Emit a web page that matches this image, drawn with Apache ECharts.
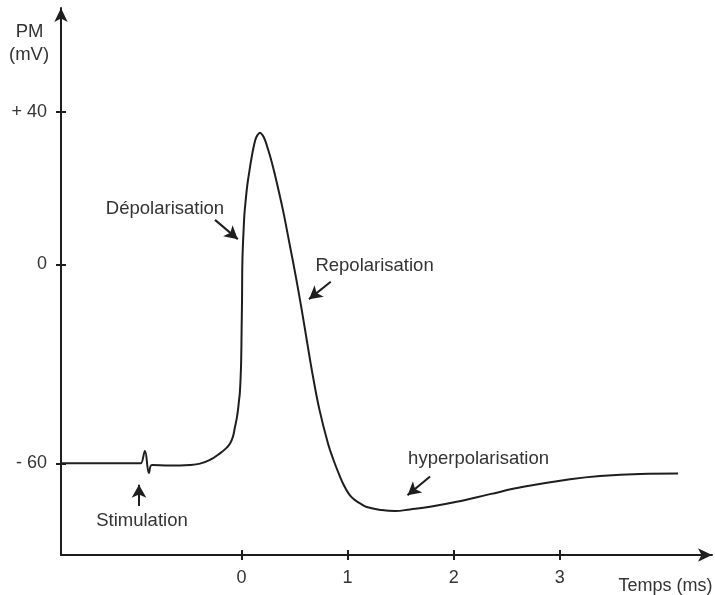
<!DOCTYPE html>
<html>
<head>
<meta charset="utf-8">
<script src="https://cdn.jsdelivr.net/npm/echarts@6/dist/echarts.min.js"></script>
<style>
html,body{margin:0;padding:0;background:#fff;}
#chart{width:715px;height:595px;}
</style>
</head>
<body>
<div id="chart"></div>
<script>
// ---- data (time in ms, membrane potential in mV) ----
const timeMs = [-1.701, -0.957, -0.947, -0.910, -0.872, -0.844, -0.674, -0.485, -0.391, -0.297, -0.203, -0.146, -0.108, -0.080,
  -0.061, -0.044, -0.033, -0.023, -0.016, -0.008, -0.003, 0.001, 0.005, 0.008, 0.014, 0.020, 0.027, 0.040, 0.055, 0.076,
  0.091, 0.108, 0.130, 0.149, 0.174, 0.200, 0.221, 0.253, 0.286, 0.319, 0.355, 0.391, 0.452, 0.512, 0.568, 0.620, 0.674,
  0.735, 0.815, 0.867, 0.928, 0.966, 1.007, 1.037, 1.070, 1.117, 1.180, 1.321, 1.447, 1.588, 1.777, 2.028, 2.342, 2.656,
  3.096, 3.379, 3.756, 4.114];
const pmMv = [-60.0, -60.0, -60.0, -56.3, -63.0, -60.5, -60.7, -60.5, -60.1, -59.0, -57.0, -55.5, -54.0, -51.9,
  -49.0, -46.3, -43.9, -40.9, -38.9, -33.9, -28.9, -19.8, -10.8, 0.1, 5.6, 9.0, 12.9, 16.9, 20.8, 24.7,
  27.3, 29.9, 32.6, 33.8, 34.5, 33.8, 32.6, 29.9, 26.7, 23.0, 18.7, 14.2, 5.5, -3.7, -13.8, -23.8, -33.9,
  -43.9, -54.0, -59.0, -64.0, -66.7, -69.0, -70.2, -71.1, -72.1, -73.2, -74.1, -74.4, -73.9, -73.1, -71.6, -69.3, -67.1,
  -64.8, -63.8, -63.2, -63.1];

const xTicks = [0, 1, 2, 3];
const yTicks = [40, 0, -60];
const yTickLabels = ['+ 40', '0', '- 60'];

// annotation texts and arrows (data coordinates: ms, mV)
const annTexts = ['Stimulation', 'Dépolarisation', 'Repolarisation', 'hyperpolarisation'];
const annTextPos = [[-0.938, -77.4], [-0.721, 14.4], [1.254, -0.5], [2.234, -58.7]];
const annArrowFrom = [[-0.966, -72.9], [-0.250, 11.65], [0.841, -5.25], [1.777, -64.0]];
const annArrowTo = [[-0.966, -66.5], [-0.035, 6.6], [0.636, -10.5], [1.565, -69.6]];

// the drawn y scale is stretched above 0 mV
const POS_STRETCH = 1.15;
function toAxis(v) { return v > 0 ? v * POS_STRETCH : v; }
const yTickPos = yTicks.map(toAxis);
function pt(p) { return [p[0], toAxis(p[1])]; }

const FONT = 'Liberation Sans, Arial, sans-serif';
const TXT = '#333';
const INK = '#1e1e1e';

const chart = echarts.init(document.getElementById('chart'));
const xCommon = { type: 'value', min: -1.701, max: 4.434, splitLine: { show: false }, gridIndex: 0 };
const yCommon = { type: 'value', min: -87.65, max: 77.28, splitLine: { show: false }, gridIndex: 0 };

chart.setOption({
  animation: false,
  grid: { left: 61, right: 3, top: 8, bottom: 40, containLabel: false },
  xAxis: [
    Object.assign({}, xCommon, {
      position: 'bottom',
      axisLine: { show: true, onZero: false, symbol: ['none', 'arrow'], symbolSize: [10, 14], lineStyle: { color: INK, width: 2 } },
      axisTick: { show: true, inside: false, length: 5, customValues: xTicks, lineStyle: { color: INK, width: 2 } },
      axisLabel: { show: true, margin: 14, customValues: xTicks, color: TXT, fontSize: 18, fontFamily: FONT }
    }),
    Object.assign({}, xCommon, {
      position: 'bottom',
      axisLine: { show: false, onZero: false },
      axisTick: { show: true, inside: true, length: 5, customValues: xTicks, lineStyle: { color: INK, width: 2 } },
      axisLabel: { show: false }
    })
  ],
  yAxis: [
    Object.assign({}, yCommon, {
      position: 'left',
      axisLine: { show: true, onZero: false, symbol: ['none', 'arrow'], symbolSize: [10, 14], lineStyle: { color: INK, width: 2 } },
      axisTick: { show: true, inside: false, length: 5, customValues: yTickPos, lineStyle: { color: INK, width: 2 } },
      axisLabel: {
        show: true, margin: 14, customValues: yTickPos, color: TXT, fontSize: 18, fontFamily: FONT,
        formatter: function (val) {
          const i = yTickPos.findIndex(function (p) { return Math.abs(p - val) < 1e-6; });
          return i >= 0 ? yTickLabels[i] : '';
        }
      }
    }),
    Object.assign({}, yCommon, {
      position: 'left',
      axisLine: { show: false, onZero: false },
      axisTick: { show: true, inside: true, length: 5, customValues: yTickPos, lineStyle: { color: INK, width: 2 } },
      axisLabel: { show: false }
    })
  ],
  graphic: [
    { type: 'text', x: 29.5, y: 31.5, style: { text: 'PM', fill: TXT, font: '18.5px ' + FONT, align: 'center', verticalAlign: 'middle' } },
    { type: 'text', x: 29, y: 55, style: { text: '(mV)', fill: TXT, font: '18.5px ' + FONT, align: 'center', verticalAlign: 'middle' } },
    { type: 'text', x: 665.5, y: 586, style: { text: 'Temps (ms)', fill: TXT, font: '18px ' + FONT, align: 'center', verticalAlign: 'middle' } }
  ],
  series: [
    {
      type: 'line',
      xAxisIndex: 0, yAxisIndex: 0,
      data: timeMs.map(function (t, i) { return [t, toAxis(pmMv[i])]; }),
      showSymbol: false,
      smooth: 0.4,
      lineStyle: { color: INK, width: 2 },
      silent: true,
      markPoint: {
        silent: true,
        symbol: 'circle',
        symbolSize: 0,
        label: { show: true, position: 'inside', color: TXT, fontSize: 18.5, fontFamily: FONT },
        data: annTexts.map(function (txt, i) {
          return { coord: pt(annTextPos[i]), value: txt, label: { formatter: txt } };
        })
      },
      markLine: {
        silent: true,
        symbol: ['none', 'arrow'],
        symbolSize: [11, 13],
        label: { show: false },
        lineStyle: { color: INK, width: 2, type: 'solid' },
        data: annArrowFrom.map(function (a, i) {
          return [{ coord: pt(a) }, { coord: pt(annArrowTo[i]) }];
        })
      }
    }
  ]
});
</script>
</body>
</html>
